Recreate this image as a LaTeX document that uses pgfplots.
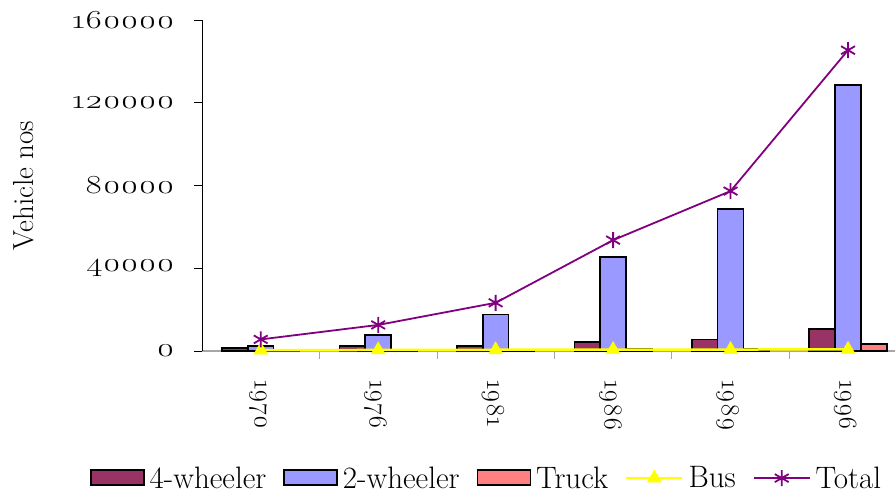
\documentclass[border=0pt]{standalone}
\usepackage{fontspec}
\newfontfamily\osf{Latin Modern Roman}[Numbers=OldStyle]
\usepackage{graphicx}
\usepackage{pgfplots}
\pgfplotsset{compat=1.18}
\definecolor{fourw}{HTML}{993366}
\definecolor{twow}{HTML}{9999FF}
\definecolor{truckc}{HTML}{FF8080}
\definecolor{busc}{HTML}{FFFF00}
\definecolor{totalc}{HTML}{800080}
\pgfplotsset{
  barleg/.style={legend image code/.code={\draw[##1] (0pt,-7pt) rectangle (53pt,8pt);}},
  lineleg/.style={legend image code/.code={\draw[mark repeat=2,mark phase=2,##1] plot coordinates {(0pt,0pt) (28pt,0pt) (56pt,0pt)};}},
}
\newcommand{\ytl}[1]{\scalebox{1.32}[1]{\osf #1}}
\newcommand{\xtl}[1]{{\osf #1}}
\begin{document}
\begin{tikzpicture}
\useasboundingbox (0,0) rectangle (895pt,495pt);
\begin{axis}[
  at={(202pt,144pt)}, anchor=south west,
  scale only axis, width=693pt, height=331pt,
  xmin=-0.5, xmax=5.4, ymin=0, ymax=160000,
  clip=false,
  axis x line=bottom, axis y line=left,
  axis line style={-},
  x axis line style={gray!70, line width=1.2pt},
  y axis line style={black, line width=0.8pt},
  xtick={0,1,2,3,4,5},
  xticklabels={\xtl{1970},\xtl{1976},\xtl{1981},\xtl{1986},\xtl{1989},\xtl{1996}},
  minor xtick={0.5,1.5,2.5,3.5,4.5},
  major x tick style={draw=none},
  minor x tick style={gray!70, line width=0.8pt},
  minor tick length=8pt,
  tick align=outside,
  ytick={0,40000,80000,120000,160000},
  yticklabels={\ytl{0},\ytl{40000},\ytl{80000},\ytl{120000},\ytl{160000}},
  y tick style={black, line width=0.8pt},
  major tick length=8pt,
  scaled y ticks=false,
  xticklabel style={rotate=-90, anchor=west, font=\fontsize{26}{26}\selectfont, xshift=-3pt, yshift=0pt, inner sep=0pt, text depth=0pt},
  xticklabel shift=24pt,
  yticklabel style={font=\fontsize{26}{26}\selectfont, xshift=-16pt},
  ylabel={Vehicle nos},
  ylabel style={at={(axis description cs:-0.258,0.5)}, anchor=center, rotate=0, font=\fontsize{29}{30}\selectfont},
  legend columns=5,
  legend style={draw=none, at={(axis description cs:0.41,-0.384)}, anchor=center,
    font=\fontsize{31}{31}\selectfont, nodes={inner sep=1pt},
    /tikz/every even column/.append style={column sep=16pt},
    /tikz/every odd column/.append style={column sep=4pt}},
  legend cell align=left,
]
\addplot[ybar, bar width=0.22, bar shift=-0.22, fill=fourw, draw=black, line width=1.6pt, barleg]
  coordinates {(0,1500) (1,2500) (2,2500) (3,4400) (4,5600) (5,10600)};
\addlegendentry{4-wheeler}
\addplot[ybar, bar width=0.22, bar shift=0, fill=twow, draw=black, line width=1.6pt, barleg]
  coordinates {(0,2500) (1,7700) (2,17700) (3,45400) (4,68600) (5,128700)};
\addlegendentry{2-wheeler}
\addplot[ybar, bar width=0.22, bar shift=0.22, fill=truckc, draw=black, line width=1.6pt, barleg]
  coordinates {(0,400) (1,500) (2,600) (3,1200) (4,1300) (5,3500)};
\addlegendentry{Truck}
\addplot[busc, line width=2.5pt, mark=triangle*, mark size=8pt, mark options={fill=busc, draw=busc, line width=0.5pt}, lineleg]
  coordinates {(0,400) (1,500) (2,600) (3,700) (4,700) (5,800)};
\addlegendentry{Bus}
\addplot[totalc, line width=1.8pt, mark=asterisk, mark size=8pt, mark options={line width=1.8pt}, lineleg]
  coordinates {(0,5600) (1,12600) (2,23300) (3,53600) (4,77300) (5,145400)};
\addlegendentry{Total}
\end{axis}
\end{tikzpicture}
\end{document}
